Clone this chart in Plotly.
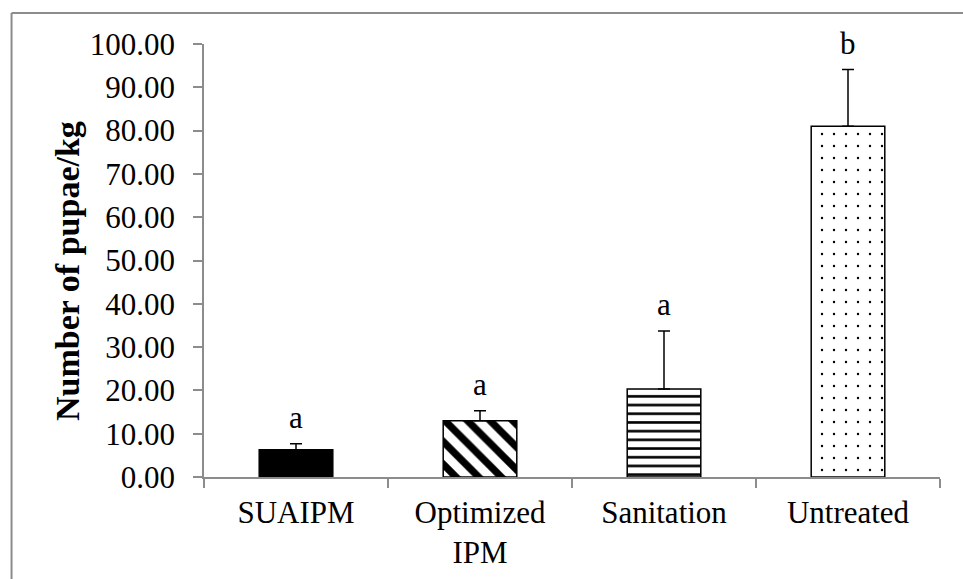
import plotly.graph_objects as go

categories = ["SUAIPM", "Optimized<br>IPM", "Sanitation", "Untreated"]
means = [6.3, 13.0, 20.3, 81.0]
errors = [1.4, 2.3, 13.4, 13.1]
letters = ["a", "a", "a", "b"]
y_ticks = [0, 10, 20, 30, 40, 50, 60, 70, 80, 90, 100]
y_title = "Number of pupae/kg"

FONT = "Liberation Serif, Times New Roman, serif"
AXIS_GREY = "#8c8c8c"

patterns = [
    dict(shape="", fillmode="replace"),
    dict(shape="\\", size=16, solidity=0.45, fgcolor="black", bgcolor="white", fillmode="replace"),
    dict(shape="-", size=8.7, solidity=0.3, fgcolor="black", bgcolor="white", fillmode="replace"),
    dict(shape=".", size=12, solidity=0.03, fgcolor="black", bgcolor="white", fillmode="replace"),
]
colors = ["black", "white", "white", "white"]

fig = go.Figure()
for i, cat in enumerate(categories):
    fig.add_trace(go.Bar(
        x=[cat], y=[means[i]],
        marker=dict(color=colors[i], line=dict(color="black", width=1.5),
                    pattern=patterns[i]),
        error_y=dict(type="data", array=[errors[i]], arrayminus=[0], symmetric=False,
                     color="black", thickness=1.5, width=6),
        showlegend=False,
    ))

for i, cat in enumerate(categories):
    fig.add_annotation(x=cat, y=means[i] + errors[i], text=letters[i], showarrow=False,
                       yanchor="bottom", yshift=7,
                       font=dict(family=FONT, size=31, color="black"))

fig.add_annotation(x=-0.1855, y=0.477, xref="paper", yref="paper", text="<b>" + y_title + "</b>",
                   textangle=-90, showarrow=False, xanchor="center", yanchor="middle",
                   font=dict(family=FONT, size=34, color="black"))

# outer frame (top and left edges visible, cut off at right/bottom)
fig.add_shape(type="line", xref="paper", yref="paper", x0=-0.2615, x1=-0.2615, y0=-0.3, y1=1.0716,
              line=dict(color=AXIS_GREY, width=2))
fig.add_shape(type="line", xref="paper", yref="paper", x0=-0.2615, x1=1.1, y0=1.0716, y1=1.0716,
              line=dict(color=AXIS_GREY, width=2))

fig.update_layout(
    width=963, height=579,
    margin=dict(l=204, r=23, t=43.5, b=102.3),
    plot_bgcolor="white", paper_bgcolor="white",
    bargap=0.6,
    font=dict(family=FONT, size=31, color="black"),
    xaxis=dict(showline=True, linecolor=AXIS_GREY, linewidth=1.5, ticks="outside",
               tickson="boundaries", ticklen=9, tickcolor=AXIS_GREY, tickwidth=1.5,
               showgrid=False, tickfont=dict(family=FONT, size=31, color="black"),
               ticklabelstandoff=7, automargin=False),
    yaxis=dict(range=[0, 100], tickvals=y_ticks, tickformat=".2f", showline=True,
               linecolor=AXIS_GREY, linewidth=1.5, ticks="outside", ticklen=9,
               tickcolor=AXIS_GREY, tickwidth=1.5, showgrid=False, zeroline=False,
               tickfont=dict(family=FONT, size=31, color="black"), ticklabelstandoff=12,
               automargin=False),
)

fig.write_html("out.html")
